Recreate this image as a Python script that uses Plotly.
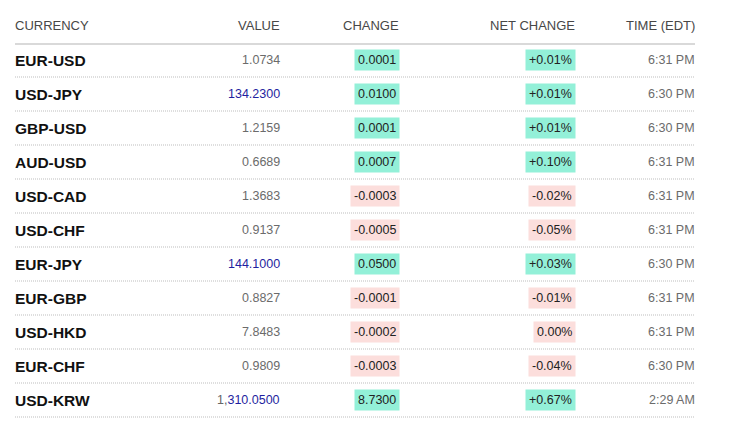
import plotly.graph_objects as go

headers = ["CURRENCY", "VALUE", "CHANGE", "NET CHANGE", "TIME (EDT)"]
currencies = ["EUR-USD", "USD-JPY", "GBP-USD", "AUD-USD", "USD-CAD", "USD-CHF",
              "EUR-JPY", "EUR-GBP", "USD-HKD", "EUR-CHF", "USD-KRW"]
values = ["1.0734", "134.2300", "1.2159", "0.6689", "1.3683", "0.9137",
          "144.1000", "0.8827", "7.8483", "0.9809", "1,310.0500"]
changes = [0.0001, 0.0100, 0.0001, 0.0007, -0.0003, -0.0005,
           0.0500, -0.0001, -0.0002, -0.0003, 8.7300]
net_changes = ["+0.01%", "+0.01%", "+0.01%", "+0.10%", "-0.02%", "-0.05%",
               "+0.03%", "-0.01%", "0.00%", "-0.04%", "+0.67%"]
times = ["6:31 PM", "6:30 PM", "6:30 PM", "6:31 PM", "6:31 PM", "6:31 PM",
         "6:30 PM", "6:31 PM", "6:31 PM", "6:30 PM", "2:29 AM"]
blue_values = ["USD-JPY", "EUR-JPY", "USD-KRW"]

# layout constants (page pixels); the page body has an 8px margin
W, H = 750, 426
OFF = 8
PAD = 2  # annotation inner padding compensation
col_x = [15 - PAD, 280 + PAD, 399 + 1, 575 + 1, 695 + PAD]
row0_px, row_h = 60, 34
header_px, header_line_px = 25, 44
left_px, right_px = 15, 695

GREEN = "#93F0D8"
PINK = "#FCDEDC"
FONT = "Liberation Sans, Arial, sans-serif"

def ypos(px):
    return (px - row0_px) / row_h

fig = go.Figure()
fig.add_trace(go.Scatter(x=[0], y=[0], mode="markers", marker=dict(opacity=0),
                         hoverinfo="skip", showlegend=False))

ann = []
hdr_x = [15 - PAD, 280 + PAD, 399 + PAD, 575 + PAD, 695 + PAD]
for i, h in enumerate(headers):
    ann.append(dict(x=hdr_x[i], y=ypos(header_px), text=h, showarrow=False,
                    xanchor="left" if i == 0 else "right", yanchor="middle",
                    font=dict(family=FONT, size=13, color="#474747")))

for r, cur in enumerate(currencies):
    y = r
    ann.append(dict(x=col_x[0], y=y, text="<b>" + cur + "</b>", showarrow=False,
                    xanchor="left", yanchor="middle",
                    font=dict(family=FONT, size=15.5, color="#111111")))
    v = values[r]
    if cur in blue_values:
        if "," in v:
            head, tail = v.split(",", 1)
            vt = f"<span style='color:#666666'>{head},</span>{tail}"
        else:
            vt = v
        vcol = "#1f1fa0"
    else:
        vt = v
        vcol = "#6b6b6b"
    ann.append(dict(x=col_x[1], y=y, text=vt, showarrow=False,
                    xanchor="right", yanchor="middle",
                    font=dict(family=FONT, size=12.5, color=vcol)))
    ch = changes[r]
    bg = GREEN if ch >= 0 else PINK
    ann.append(dict(x=col_x[2], y=y, text=f"{ch:.4f}", showarrow=False,
                    xanchor="right", yanchor="middle", bgcolor=bg, borderpad=3,
                    font=dict(family=FONT, size=12.5, color="#222222")))
    ann.append(dict(x=col_x[3], y=y, text=net_changes[r], showarrow=False,
                    xanchor="right", yanchor="middle", bgcolor=bg, borderpad=3,
                    font=dict(family=FONT, size=12.5, color="#222222")))
    ann.append(dict(x=col_x[4], y=y, text=times[r], showarrow=False,
                    xanchor="right", yanchor="middle",
                    font=dict(family=FONT, size=12.5, color="#6b6b6b")))

shapes = [dict(type="line", x0=left_px, x1=right_px, y0=ypos(header_line_px),
               y1=ypos(header_line_px), line=dict(color="#cccccc", width=1.5))]
for r in range(len(currencies)):
    shapes.append(dict(type="line", x0=left_px, x1=right_px, y0=r + 0.5, y1=r + 0.5,
                       line=dict(color="#bdbdbd", width=1, dash="1px,1px")))

fig.update_layout(
    width=W - 2 * OFF, height=H - 2 * OFF, margin=dict(l=0, r=0, t=0, b=0),
    paper_bgcolor="white", plot_bgcolor="white",
    xaxis=dict(range=[OFF, W - OFF], visible=False, fixedrange=True),
    yaxis=dict(range=[ypos(H - OFF), ypos(OFF)], visible=False, fixedrange=True),
    annotations=ann, shapes=shapes, showlegend=False,
)
fig.write_html("out.html")
